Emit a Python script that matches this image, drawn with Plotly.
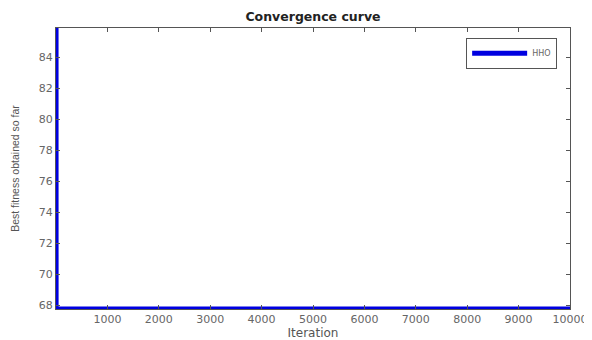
import plotly.graph_objects as go

iterations = [1, 2, 10000]
best_fitness = [85.87, 67.75, 67.75]
series_name = "HHO"
x_ticks = [1000, 2000, 3000, 4000, 5000, 6000, 7000, 8000, 9000, 10000]
y_ticks = [68, 70, 72, 74, 76, 78, 80, 82, 84]

fig = go.Figure()
fig.add_trace(go.Scatter(
    x=iterations, y=best_fitness, mode="lines", name=series_name,
    line=dict(color="#0000e0", width=5), cliponaxis=False,
))

tick_font = dict(family="DejaVu Sans", size=11, color="#666")
axis_common = dict(
    showgrid=False, zeroline=False, showline=True, mirror="ticks",
    linecolor="#555", linewidth=1, ticks="inside", ticklen=4,
    tickcolor="#555", tickfont=tick_font, tickformat="d",
)
# the page body has an 8px margin, so the figure is laid out shifted by 8px
fig.update_layout(
    width=592, height=340,
    margin=dict(l=48, r=30, t=20, b=39, autoexpand=False),
    paper_bgcolor="white", plot_bgcolor="white",
    title=dict(text="<b>Convergence curve</b>", x=0.5, xref="paper", xanchor="center",
               y=1 - 9 / 340, yref="container", yanchor="middle",
               font=dict(family="DejaVu Sans", size=12.5, color="#222")),
    xaxis=dict(range=[0, 10000], tickvals=x_ticks, **axis_common,
               title=dict(text="Iteration", standoff=2,
                          font=dict(family="DejaVu Sans", size=12, color="#555"))),
    yaxis=dict(range=[67.75, 85.87], tickvals=y_ticks, **axis_common,
               title=dict(text="Best fitness obtained so far", standoff=17,
                          font=dict(family="Liberation Sans", size=10.5, color="#555"))),
    legend=dict(x=0.975, y=0.965, xanchor="right", yanchor="top",
                bordercolor="#555", borderwidth=1, bgcolor="white",
                tracegroupgap=0, itemwidth=55,
                font=dict(family="DejaVu Sans", size=8, color="#666")),
    showlegend=True,
)
fig.write_html("out.html")
